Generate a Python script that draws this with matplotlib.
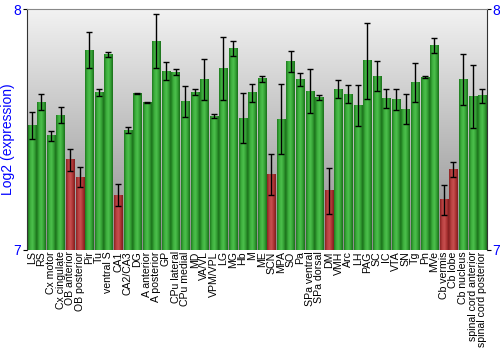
import matplotlib.pyplot as plt
import numpy as np
from matplotlib.colors import LinearSegmentedColormap

REGIONS = [
    "LS", "RS", "Cx motor", "Cx cingulate", "OB anterior", "OB posterior",
    "Pir", "Tu", "ventral S", "CA1", "CA2/CA3", "DG", "A anterior",
    "A posterior", "GP", "CPu lateral", "CPu medial", "MD", "VA/VL",
    "VPM/VPL", "LG", "MG", "Hb", "M", "ME", "SCN", "MPA", "SO", "Pa",
    "SPa ventral", "SPa dorsal", "DM", "VMH", "Arc", "LH", "PAG", "SC", "IC",
    "VTA", "SN", "Tg", "Pn", "MVe", "Cb vermis", "Cb lobe", "Cb nucleus",
    "spinal cord anterior", "spinal cord posterior",
]

EXPR = [
    7.517, 7.614, 7.474, 7.560, 7.375, 7.303, 7.830, 7.653, 7.812, 7.228,
    7.498, 7.650, 7.613, 7.867, 7.743, 7.739, 7.617, 7.656, 7.707, 7.556,
    7.754, 7.836, 7.547, 7.653, 7.711, 7.312, 7.544, 7.783, 7.708, 7.660,
    7.633, 7.246, 7.667, 7.646, 7.600, 7.785, 7.721, 7.629, 7.625, 7.585,
    7.696, 7.718, 7.849, 7.208, 7.333, 7.707, 7.638, 7.640,
]

ERR = [
    0.055, 0.032, 0.020, 0.034, 0.046, 0.041, 0.074, 0.015, 0.011, 0.044,
    0.011, 0.003, 0.003, 0.113, 0.039, 0.012, 0.065, 0.012, 0.085, 0.009,
    0.130, 0.030, 0.103, 0.037, 0.012, 0.085, 0.144, 0.043, 0.028, 0.092,
    0.012, 0.096, 0.037, 0.037, 0.084, 0.158, 0.062, 0.040, 0.042, 0.061,
    0.081, 0.006, 0.032, 0.061, 0.031, 0.106, 0.130, 0.028,
]

# regions flagged as low expression (red)
LOW = {"OB anterior", "OB posterior", "CA1", "SCN", "DM", "Cb vermis", "Cb lobe"}

YMIN, YMAX = 7, 8
BAR_W = 0.86

green = LinearSegmentedColormap.from_list(
    "g", ["#1e7a1e", "#3dae3d", "#4cc04c", "#34a034", "#1a6e1a"])
red = LinearSegmentedColormap.from_list(
    "r", ["#8a2222", "#b84040", "#c85050", "#ac3434", "#7e1e1e"])
bg = LinearSegmentedColormap.from_list("bg", ["#f2f2f2", "#8c8c8c"])

fig = plt.figure(figsize=(5.0, 3.5), dpi=100)
ax = fig.add_axes([0.054, 0.286, 0.92, 0.688])

x = np.arange(len(REGIONS))
ax.set_xlim(-0.5, len(REGIONS) - 0.5)
ax.set_ylim(YMIN, YMAX)

# vertical grey gradient behind the bars, light at the top
ax.imshow(np.linspace(0, 1, 256).reshape(-1, 1), cmap=bg, aspect="auto",
          extent=(-0.5, len(REGIONS) - 0.5, YMIN, YMAX), origin="upper",
          zorder=0)

hgrad = np.linspace(0, 1, 64).reshape(1, -1)
for xi, name, v in zip(x, REGIONS, EXPR):
    cmap = red if name in LOW else green
    ax.imshow(hgrad, cmap=cmap, aspect="auto", zorder=1,
              extent=(xi - BAR_W / 2, xi + BAR_W / 2, YMIN, v))

ax.errorbar(x, EXPR, yerr=ERR, fmt="none", ecolor="black", elinewidth=1.0,
            capsize=2.2, capthick=1.0, zorder=3)

ax.set_xticks(x)
ax.set_xticklabels(REGIONS, rotation=90, fontsize=7.6, family="Liberation Sans")
ax.tick_params(axis="x", length=0, pad=1)

ax.set_yticks([7, 8])
ax.tick_params(axis="y", colors="black", labelcolor="blue", labelsize=10,
               length=3, right=True, labelright=True, pad=1)
for lbl in ax.get_yticklabels():
    lbl.set_family("Liberation Sans")
ax.set_ylabel("Log2 (expression)", color="blue", fontsize=10,
              family="Liberation Sans")
ax.yaxis.set_label_coords(-0.026, 0.46)

for side in ("left", "right"):
    ax.spines[side].set_color("#333333")
ax.spines["top"].set_color("#888888")
ax.spines["bottom"].set_visible(False)

fig.savefig("out.png", dpi=100)
